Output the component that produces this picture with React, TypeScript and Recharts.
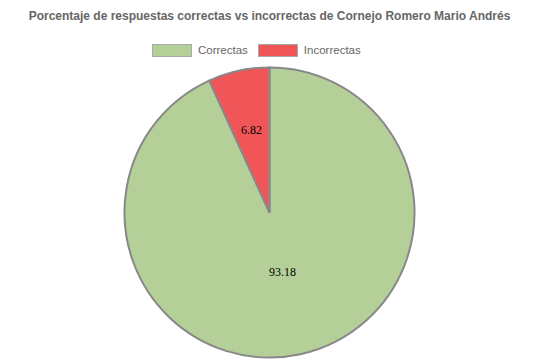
import React from 'react';
import { PieChart, Pie, Cell } from 'recharts';

const categories = ['Correctas', 'Incorrectas'];
const values = [93.18, 6.82];
const colors = ['#b5cf99', '#f05558'];
const labelRadius = [0.42, 0.58];

const chartData = categories.map((name, i) => ({ name, value: values[i] }));

const RADIAN = Math.PI / 180;

const SliceLabel = (props: any) => {
  const { cx, cy, midAngle, outerRadius, index, value } = props;
  const r = outerRadius * labelRadius[index];
  const x = cx + r * Math.cos(-midAngle * RADIAN);
  const y = cy + r * Math.sin(-midAngle * RADIAN);
  return (
    <text
      x={x}
      y={y}
      fill="#000"
      fontFamily="'Liberation Serif', serif"
      fontSize={12}
      textAnchor="middle"
      dominantBaseline="central"
    >
      {value}
    </text>
  );
};

const font = "'Liberation Sans', Arial, sans-serif";

export default function App() {
  return (
    <div style={{ position: 'absolute', left: 0, top: 0, width: 539, height: 362, background: '#fff' }}>
      <div
        style={{
          position: 'absolute',
          left: 0,
          top: 9,
          width: 539,
          textAlign: 'center',
          fontFamily: font,
          fontWeight: 'bold',
          fontSize: 12,
          color: '#666',
        }}
      >
        Porcentaje de respuestas correctas vs incorrectas de Cornejo Romero Mario Andrés
      </div>
      <div
        style={{
          position: 'absolute',
          left: 152,
          top: 43,
          display: 'flex',
          alignItems: 'center',
          fontFamily: font,
          fontSize: 11.5,
          color: '#666',
          lineHeight: '14px',
          whiteSpace: 'nowrap',
        }}
      >
        {categories.map((c, i) => (
          <div key={c} style={{ display: 'flex', alignItems: 'center', marginRight: i === 0 ? 10 : 0 }}>
            <span
              style={{
                display: 'inline-block',
                width: 38,
                height: 11,
                background: colors[i],
                border: '1px solid #aaa',
                marginRight: 6,
              }}
            />
            <span>{c}</span>
          </div>
        ))}
      </div>
      <PieChart width={539} height={362} margin={{ top: 0, right: 0, bottom: 0, left: 0 }}>
        <Pie
          data={chartData}
          dataKey="value"
          nameKey="name"
          cx={269.5}
          cy={212.5}
          outerRadius={145}
          startAngle={90}
          endAngle={-270}
          stroke="#888"
          strokeWidth={2}
          labelLine={false}
          label={<SliceLabel />}
          isAnimationActive={false}
        >
          {chartData.map((d, i) => (
            <Cell key={d.name} fill={colors[i]} />
          ))}
        </Pie>
      </PieChart>
    </div>
  );
}
